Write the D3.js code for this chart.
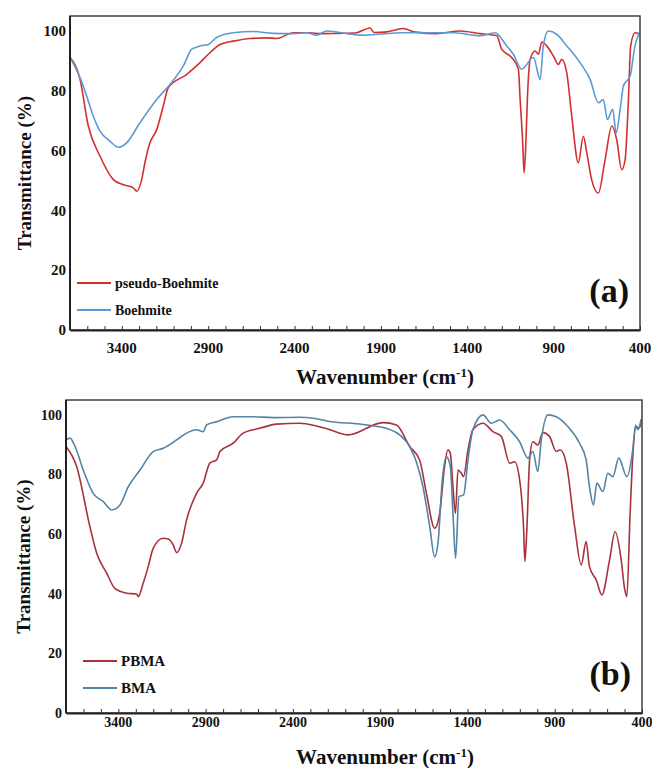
<!DOCTYPE html>
<html>
<head>
<meta charset="utf-8">
<script src="https://cdn.jsdelivr.net/npm/d3@7"></script>
<style>
  body { margin: 0; background: #fff; }
  svg text { font-family: "Liberation Serif", "Times New Roman", serif; font-weight: bold; fill: #111; }
</style>
</head>
<body>
<svg id="chart" width="652" height="768"></svg>
<script>
// ---- data ----
const xTickValues = [3400, 2900, 2400, 1900, 1400, 900, 400];
const yTickValues = [0, 20, 40, 60, 80, 100];

// panel (a)
const pseudoBoehmiteWn = [3700, 3642, 3594, 3526, 3449, 3391, 3333, 3314, 3285, 3266, 3237, 3198, 3160, 3131, 3024, 2947, 2899, 2831, 2754, 2658, 2561, 2503, 2407, 2310, 2252, 2150, 2050, 1963, 1940, 1866, 1770, 1700, 1577, 1442, 1326, 1229, 1201, 1143, 1104, 1094, 1079, 1071, 1060, 1052, 1036, 1007, 988, 969, 940, 902, 873, 853, 824, 795, 757, 728, 708, 680, 641, 602, 563, 535, 506, 486, 467, 454, 429, 404];
const pseudoBoehmiteT = [91.2, 83.8, 68.2, 58.1, 50.3, 48.6, 47.5, 46.4, 50.3, 56, 62.6, 67, 74.9, 81, 85.5, 89.4, 92.2, 95.5, 96.6, 97.5, 97.7, 97.5, 99.4, 99.4, 99.1, 99.2, 99.3, 101, 99.5, 99.7, 100.8, 99.6, 99.1, 100, 99.1, 98.4, 93.9, 91.1, 87.2, 77.1, 62.6, 52.5, 63.7, 77.1, 90.5, 93.3, 92.2, 96.3, 95, 91.7, 88.8, 90.5, 86, 71.5, 55.9, 64.8, 59.2, 50.3, 45.8, 57, 68.2, 63.7, 53.6, 57, 77.1, 95, 99.4, 99.1];

const boehmiteWn = [3700, 3642, 3603, 3565, 3526, 3468, 3420, 3372, 3295, 3198, 3121, 3044, 2995, 2970, 2947, 2899, 2851, 2754, 2639, 2523, 2407, 2330, 2271, 2214, 2021, 1770, 1480, 1326, 1239, 1172, 1133, 1085, 1017, 978, 960, 931, 882, 824, 747, 689, 641, 612, 589, 558, 538, 515, 496, 457, 429, 404];
const boehmiteT = [91.2, 84.4, 78.2, 71.5, 66.5, 63.1, 61.1, 62.6, 69.3, 77.1, 82.1, 88.3, 93.9, 94.5, 95, 95.5, 97.8, 99.4, 99.8, 99.2, 99.1, 99.4, 98.6, 100, 98.6, 99.4, 99.4, 98.4, 99.4, 95, 92.2, 87.2, 91.1, 83.8, 95, 100, 98.9, 95, 89.4, 83.8, 76, 77.1, 70.4, 73.8, 65.9, 73.8, 81.6, 85, 95, 99.4];

// panel (b)
const pbmaWn = [3700, 3639, 3563, 3524, 3467, 3420, 3353, 3295, 3286, 3258, 3229, 3200, 3143, 3114, 3086, 3066, 3038, 3009, 2952, 2914, 2876, 2837, 2818, 2742, 2685, 2590, 2494, 2361, 2265, 2200, 2084, 1884, 1807, 1731, 1674, 1635, 1588, 1559, 1531, 1512, 1498, 1483, 1469, 1454, 1435, 1422, 1397, 1369, 1311, 1254, 1206, 1158, 1130, 1101, 1078, 1071, 1059, 1044, 1025, 997, 968, 930, 891, 869, 834, 786, 748, 720, 701, 662, 630, 586, 554, 519, 500, 487, 468, 453, 434, 418, 405];
const pbmaT = [89.4, 82.7, 62.5, 53.6, 46.9, 41.8, 40.2, 39.9, 39, 43.5, 49.1, 55.3, 58.6, 58.4, 56.4, 53.8, 56.9, 64.8, 73.7, 77.1, 83.8, 84.9, 87.7, 90.5, 93.9, 95.5, 96.9, 97.2, 96.3, 95.3, 93.3, 97.4, 96.6, 89.4, 84.9, 73.7, 62, 67, 82.7, 88.3, 87.1, 75.9, 67, 81.5, 80.4, 79.3, 88.3, 95, 97.2, 94.4, 92.8, 83.8, 84.3, 78.2, 61.4, 50.8, 62.5, 84.9, 91, 89.9, 94.1, 92.8, 87.7, 88.3, 83.8, 62.5, 49.7, 57.5, 49.1, 44.6, 39.6, 51.3, 60.8, 51.3, 41.8, 39, 67, 86, 96.1, 95.5, 97.2];

const bmaWn = [3700, 3677, 3648, 3601, 3544, 3486, 3438, 3391, 3343, 3276, 3200, 3143, 3066, 3009, 2952, 2914, 2895, 2837, 2742, 2628, 2513, 2361, 2284, 2200, 2000, 1864, 1788, 1731, 1693, 1655, 1616, 1588, 1569, 1544, 1521, 1498, 1483, 1468, 1449, 1422, 1397, 1369, 1311, 1263, 1216, 1158, 1101, 1054, 1025, 997, 977, 939, 891, 825, 758, 720, 701, 678, 659, 624, 596, 567, 533, 487, 453, 437, 424, 405];
const bmaT = [91.6, 92.2, 89.4, 81.5, 73.7, 70.9, 68.1, 69.8, 75.9, 81.5, 87.7, 88.8, 91.6, 93.9, 95, 94.4, 96.6, 97.7, 99.4, 99.4, 99.1, 99.2, 98.9, 97.9, 96.8, 95.5, 93.3, 89.4, 84.3, 75.9, 62.5, 52.4, 56.9, 78.2, 86, 82.7, 67, 51.9, 72.6, 73.2, 84.9, 95, 100, 97.2, 98.3, 95, 91, 85.5, 87.7, 81, 91.6, 100, 99.4, 96.1, 90.5, 84.9, 75.9, 69.8, 77.1, 74.3, 80.4, 79.3, 85.5, 79.3, 88.3, 96.6, 95, 98.6];

// ---- drawing ----
const svg = d3.select('#chart');

const panels = [
  {
    left: 70, right: 640, top: 16, bottom: 330, letter: '(a)',
    tickFont: 15, legendFont: 14,
    series: [
      {name: 'pseudo-Boehmite', wn: pseudoBoehmiteWn, t: pseudoBoehmiteT, color: '#d2302f'},
      {name: 'Boehmite', wn: boehmiteWn, t: boehmiteT, color: '#5b9bd5'}
    ],
    legendX: 77, legendY: 283,
    xLabelY: 353, titleY: 384, yTitleX: 24
  },
  {
    left: 66, right: 642, top: 400, bottom: 713, letter: '(b)',
    tickFont: 14, legendFont: 15,
    series: [
      {name: 'PBMA', wn: pbmaWn, t: pbmaT, color: '#a8323c'},
      {name: 'BMA', wn: bmaWn, t: bmaT, color: '#5284a6'}
    ],
    legendX: 83, legendY: 661,
    xLabelY: 727, titleY: 764, yTitleX: 23
  }
];

panels.forEach(p => drawPanel(p));

function drawPanel(p){
  const x = d3.scaleLinear().domain([3700, 400]).range([p.left, p.right]);
  const y = d3.scaleLinear().domain([0, 105]).range([p.bottom, p.top]);
  const g = svg.append('g');

  // spectra
  const line = d3.line()
    .x(d => x(d[0])).y(d => y(d[1]))
    .curve(d3.curveMonotoneX);
  p.series.forEach(s => {
    const pts = s.wn.map((w, i) => [w, s.t[i]]);
    g.append('path').attr('d', line(pts))
      .attr('fill', 'none').attr('stroke', s.color)
      .attr('stroke-width', 1.6).attr('stroke-linejoin', 'round');
  });

  // frame
  g.append('rect')
    .attr('x', p.left).attr('y', p.top)
    .attr('width', p.right - p.left).attr('height', p.bottom - p.top)
    .attr('fill', 'none').attr('stroke', '#333').attr('stroke-width', 1.4);

  // x minor ticks pointing inward
  g.append('g').attr('transform', `translate(0,${p.bottom})`)
    .call(d3.axisBottom(x).tickValues(d3.range(3600, 399, -100)).tickSizeInner(-4).tickSizeOuter(0).tickFormat(''))
    .call(a => a.select('.domain').attr('stroke', '#222').attr('stroke-width', 2))
    .call(a => a.selectAll('.tick line').attr('stroke', '#333'));

  // x labels
  g.append('g').selectAll('text').data(xTickValues).enter().append('text')
    .attr('x', d => x(d)).attr('y', p.xLabelY)
    .attr('text-anchor', 'middle').attr('font-size', p.tickFont)
    .text(d => d);

  // y axis
  g.append('line').attr('x1', p.left).attr('x2', p.left)
    .attr('y1', p.top).attr('y2', p.bottom)
    .attr('stroke', '#222').attr('stroke-width', 2);
  g.append('g').selectAll('text').data(yTickValues).enter().append('text')
    .attr('x', p.left - 4).attr('y', d => y(d))
    .attr('dy', '0.35em')
    .attr('text-anchor', 'end').attr('font-size', p.tickFont)
    .text(d => d);

  // axis titles
  const xt = g.append('text').attr('x', 385).attr('y', p.titleY)
    .attr('text-anchor', 'middle').attr('font-size', 21);
  xt.append('tspan').text('Wavenumber (cm');
  xt.append('tspan').attr('baseline-shift', 'super').attr('font-size', 13).text('-1');
  xt.append('tspan').text(')');

  g.append('text')
    .attr('transform', `translate(${p.yTitleX},${(p.top + p.bottom) / 2})rotate(-90)`)
    .attr('text-anchor', 'middle').attr('dy', '0.35em')
    .attr('font-size', 19)
    .text('Transmittance (%)');

  // legend
  p.series.forEach((s, i) => {
    const ly = p.legendY + i * 27;
    g.append('line').attr('x1', p.legendX).attr('x2', p.legendX + 34)
      .attr('y1', ly).attr('y2', ly)
      .attr('stroke', s.color).attr('stroke-width', 1.8);
    g.append('text').attr('x', p.legendX + 38).attr('y', ly).attr('dy', '0.35em')
      .attr('font-size', p.legendFont).text(s.name);
  });

  // panel letter
  g.append('text').attr('x', p.right - 11).attr('y', p.bottom - 28)
    .attr('text-anchor', 'end').attr('font-size', 34)
    .text(p.letter);
}
</script>
</body>
</html>
